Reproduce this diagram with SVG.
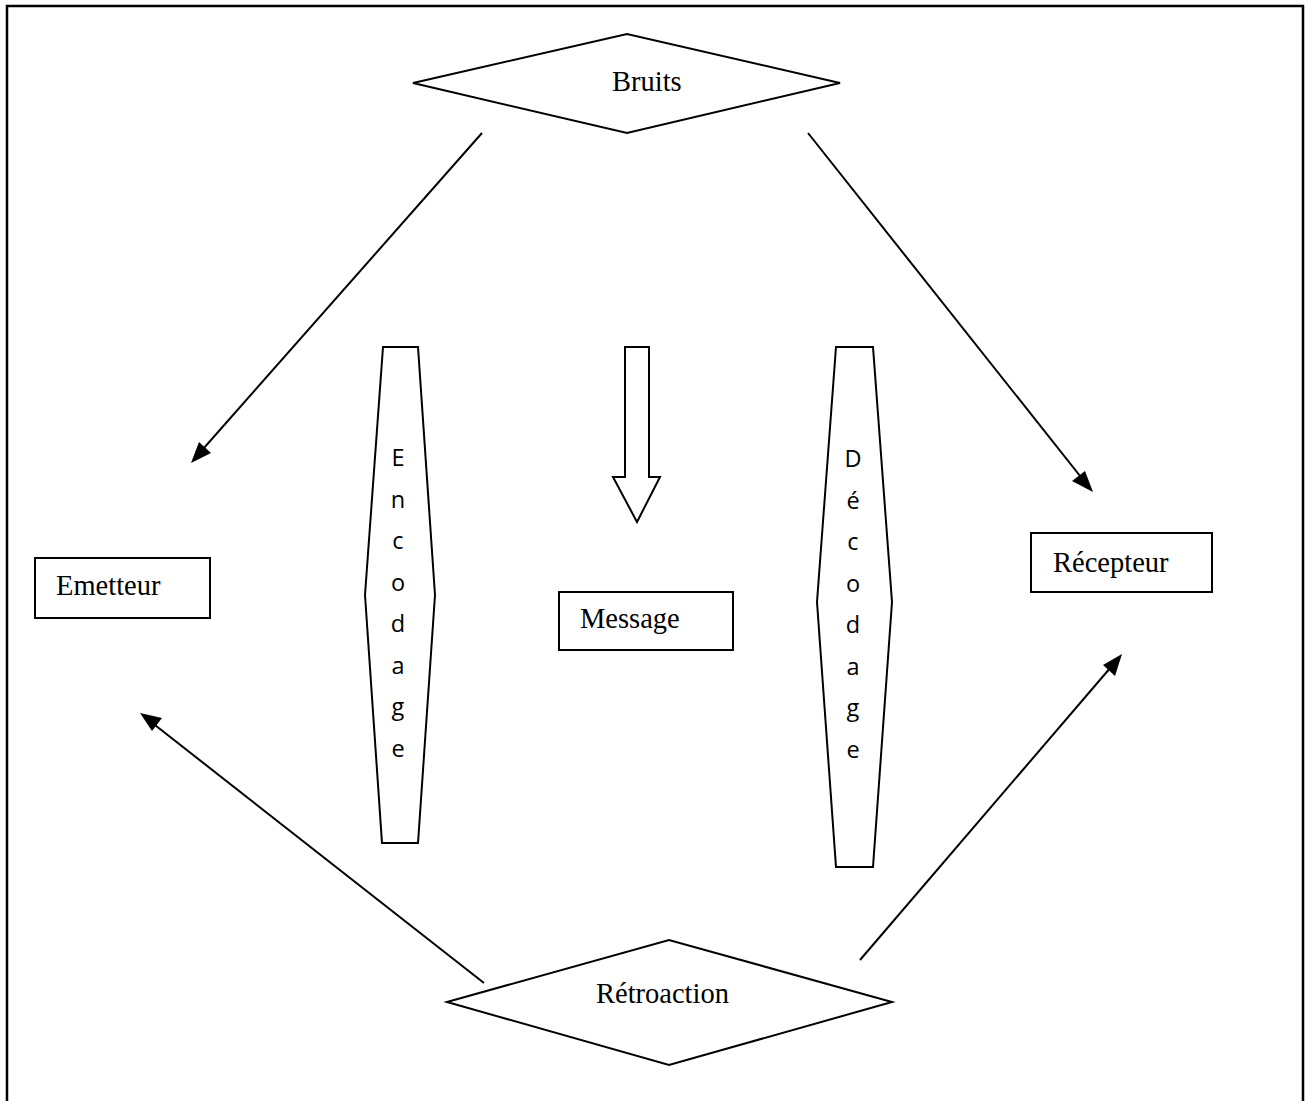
<svg xmlns="http://www.w3.org/2000/svg" width="1311" height="1101" viewBox="0 0 1311 1101">
<style>
.shape{fill:#fff;stroke:#000;stroke-width:2}
.lbl{font-family:"Liberation Serif","Times New Roman",serif;font-size:28.5px;fill:#000}
.vl{font-family:"Open Sans","Liberation Sans",sans-serif;font-size:23.5px;fill:#000;text-anchor:middle}
.conn{stroke:#000;stroke-width:2;fill:none}
.head{fill:#000}
</style>
<rect width="1311" height="1101" fill="#fff"/>
<path d="M7,1110 L7,6 L1303,6 L1303,1110" fill="none" stroke="#000" stroke-width="2.5"/>
<g id="connectors">
<path class="conn" d="M482,133 L196,457"/>
<polygon class="head" points="191,463 199,442 211,453"/>
<path class="conn" d="M808,133 L1088,486"/>
<polygon class="head" points="1093,492 1072,481 1085,471"/>
<path class="conn" d="M484,983 L146,718"/>
<polygon class="head" points="140,713 162,718 152,731"/>
<path class="conn" d="M860,960 L1117,660"/>
<polygon class="head" points="1122,654 1115,676 1103,665"/>
</g>
<g id="bruits">
<polygon class="shape" points="413,83 627,34 840,83 627,133"/>
<text class="lbl" x="612" y="91">Bruits</text>
</g>
<g id="retroaction">
<polygon class="shape" points="447,1002 669,940 892,1002 669,1065"/>
<text class="lbl" x="596" y="1003">Rétroaction</text>
</g>
<g id="emetteur">
<rect class="shape" x="35" y="558" width="175" height="60"/>
<text class="lbl" x="56" y="595">Emetteur</text>
</g>
<g id="message">
<rect class="shape" x="559" y="592" width="174" height="58"/>
<text class="lbl" x="580" y="628">Message</text>
</g>
<g id="recepteur">
<rect class="shape" x="1031" y="533" width="181" height="59"/>
<text class="lbl" x="1053" y="572">Récepteur</text>
</g>
<g id="encodage">
<polygon class="shape" points="383,347 418,347 435,595 418,843 382,843 365,595"/>
<text class="vl" x="398" y="466">E</text>
<text class="vl" x="398" y="507.5">n</text>
<text class="vl" x="398" y="549">c</text>
<text class="vl" x="398" y="590.5">o</text>
<text class="vl" x="398" y="632">d</text>
<text class="vl" x="398" y="673.5">a</text>
<text class="vl" x="398" y="715">g</text>
<text class="vl" x="398" y="756.5">e</text>
</g>
<g id="decodage">
<polygon class="shape" points="836,347 873,347 892,602 873,867 836,867 817,602"/>
<text class="vl" x="853" y="467">D</text>
<text class="vl" x="853" y="508.5">é</text>
<text class="vl" x="853" y="550">c</text>
<text class="vl" x="853" y="591.5">o</text>
<text class="vl" x="853" y="633">d</text>
<text class="vl" x="853" y="674.5">a</text>
<text class="vl" x="853" y="716">g</text>
<text class="vl" x="853" y="757.5">e</text>
</g>
<g id="flow-arrow">
<polygon class="shape" points="625,347 649,347 649,477 660,477 637,522 613,477 625,477"/>
</g>
</svg>
